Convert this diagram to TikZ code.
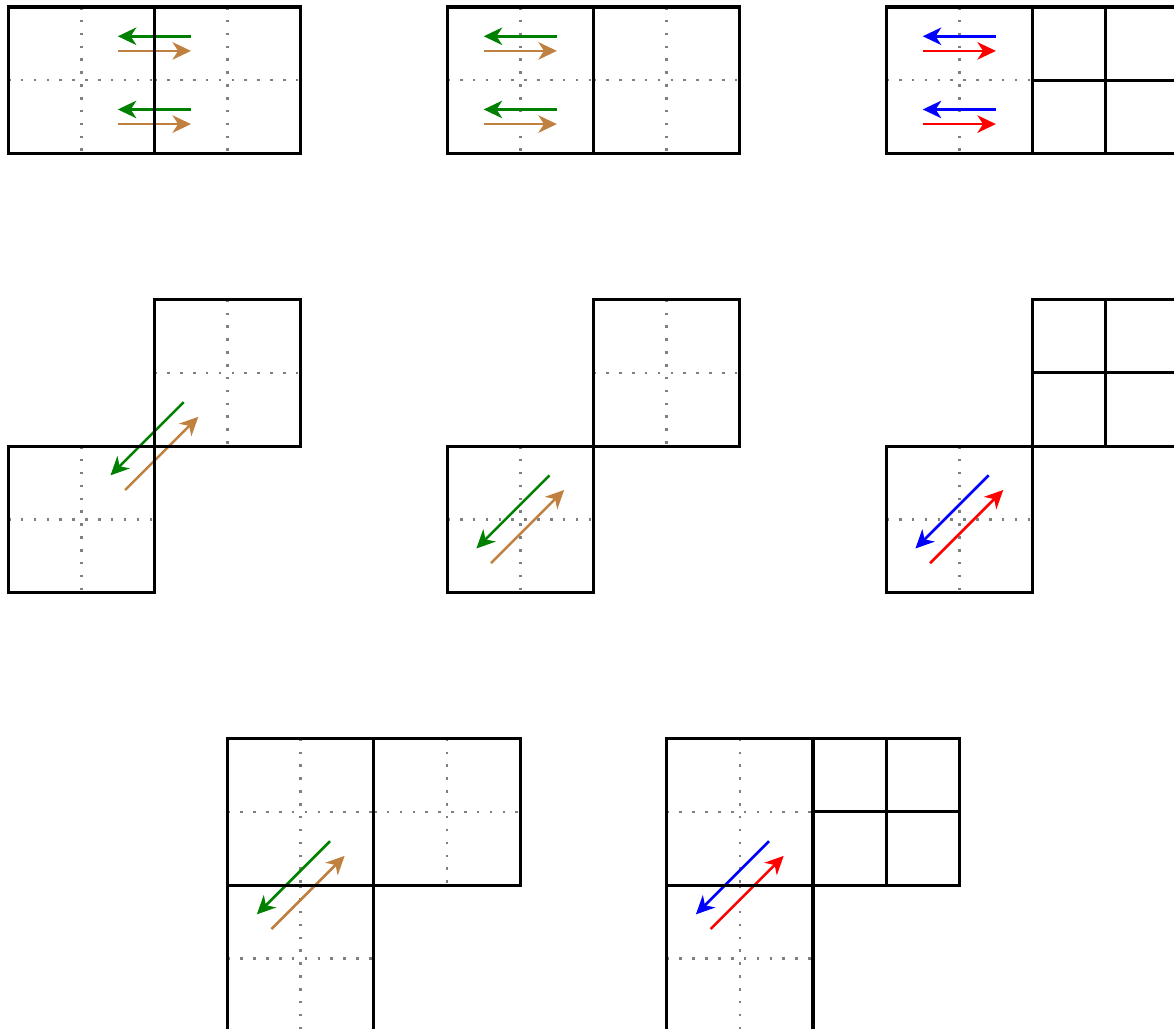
\documentclass[tikz,border=0pt]{standalone}
\usetikzlibrary{arrows.meta}
\tikzset{
  wall/.style={draw, black, line width=0.6pt},
  guide/.style={draw, gray, line width=0.5pt, dash pattern=on 0.5pt off 2pt},
  mv/.style={line width=0.5pt, -{Stealth[length=3.6pt, width=3.4pt, inset=1.1pt]}},
  fwd/.style={mv, brown},
  back/.style={mv, green!50!black},
  fwdred/.style={mv, red},
  backblue/.style={mv, blue},
}

\begin{document}
\begin{tikzpicture}
  \useasboundingbox (-0.055,0.048) rectangle (7.967,-6.983);
  % dotted halves of the plain cells
  \foreach \x/\y in {0/0, 1/0, 3/0, 4/0, 6/0, 1/-2, 0/-3, 4/-2, 3/-3, 6/-3,
                     1.5/-5, 2.5/-5, 1.5/-6, 4.5/-5, 4.5/-6} {
    \draw[guide] (\x+0.5,\y) -- ++(0,-1);
    \draw[guide] (\x,\y-0.5) -- ++(1,0);
  }
  % moves
  \foreach \x/\a/\b in {0.75/back/fwd, 3.25/back/fwd, 6.25/backblue/fwdred} {
    \draw[\a] (\x+0.5,-0.2) -- (\x,-0.2);
    \draw[\b] (\x,-0.3) -- (\x+0.5,-0.3);
    \draw[\a] (\x+0.5,-0.7) -- (\x,-0.7);
    \draw[\b] (\x,-0.8) -- (\x+0.5,-0.8);
  }
  \draw[back] (1.2,-2.7) -- (0.7,-3.2);
  \draw[fwd] (0.8,-3.3) -- (1.3,-2.8);
  \draw[back] (3.7,-3.2) -- (3.2,-3.7);
  \draw[fwd] (3.3,-3.8) -- (3.8,-3.3);
  \draw[backblue] (6.7,-3.2) -- (6.2,-3.7);
  \draw[fwdred] (6.3,-3.8) -- (6.8,-3.3);
  \draw[back] (2.2,-5.7) -- (1.7,-6.2);
  \draw[fwd] (1.8,-6.3) -- (2.3,-5.8);
  \draw[backblue] (5.2,-5.7) -- (4.7,-6.2);
  \draw[fwdred] (4.8,-6.3) -- (5.3,-5.8);
  % split cells
  \foreach \x/\y in {7/0, 7/-2, 5.5/-5} {
    \draw[wall] (\x+0.5,\y) -- ++(0,-1);
    \draw[wall] (\x,\y-0.5) -- ++(1,0);
  }
  % cell borders
  \foreach \x/\y in {0/0, 1/0, 3/0, 4/0, 6/0, 7/0, 1/-2, 0/-3, 4/-2, 3/-3,
                     7/-2, 6/-3, 1.5/-5, 2.5/-5, 1.5/-6, 4.5/-5, 5.5/-5, 4.5/-6}
    \draw[wall] (\x,\y) rectangle ++(1,-1);
\end{tikzpicture}
\end{document}
